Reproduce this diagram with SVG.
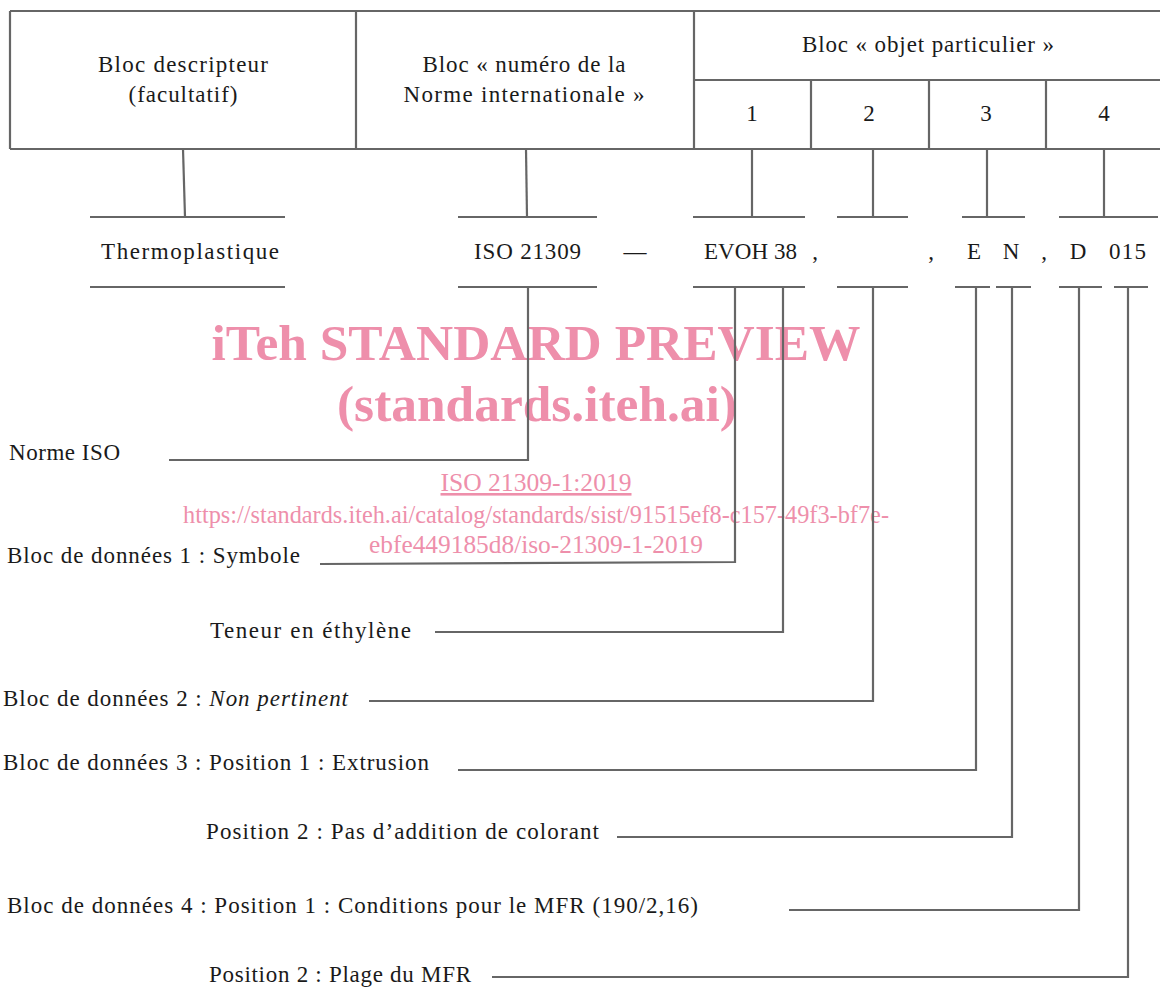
<svg xmlns="http://www.w3.org/2000/svg" width="1160" height="988" viewBox="0 0 1160 988">
<style>
.t{font-family:"Liberation Serif","Times New Roman",serif;font-size:23px;fill:#1a1a1a}
.c{text-anchor:middle}
.ln{stroke:#666;stroke-width:2.2;fill:none}
.wm{font-family:"Liberation Serif","Times New Roman",serif;fill:#ee8fab;text-anchor:middle}
.b{font-weight:bold;font-size:51px}
.s{font-size:26px}
</style>
<rect width="1160" height="988" fill="#fff"/>

<g id="watermark">
<text class="wm b" x="536" y="360" textLength="649" lengthAdjust="spacingAndGlyphs">iTeh STANDARD PREVIEW</text>
<text class="wm b" x="537" y="421" textLength="400" lengthAdjust="spacingAndGlyphs">(standards.iteh.ai)</text>
<text class="wm s" x="536" y="491" textLength="191" lengthAdjust="spacingAndGlyphs" text-decoration="underline">ISO 21309-1:2019</text>
<text class="wm s" x="536" y="523" textLength="706" lengthAdjust="spacingAndGlyphs">https://standards.iteh.ai/catalog/standards/sist/91515ef8-c157-49f3-bf7e-</text>
<text class="wm s" x="536" y="553" textLength="334" lengthAdjust="spacingAndGlyphs">ebfe449185d8/iso-21309-1-2019</text>
</g>

<g id="table">
<path class="ln" d="M10 11H1160M10 149H1160M10 11V149M356 11V149M694 11V149M694 80H1160M811 80V149M929 80V149M1046 80V149"/>
</g>

<g id="cell-descripteur">
<text class="t c" x="183" y="72" textLength="170" lengthAdjust="spacing">Bloc descripteur</text>
<text class="t c" x="183" y="102" textLength="109" lengthAdjust="spacing">(facultatif)</text>
</g>
<g id="cell-numero">
<text class="t c" x="524" y="72" textLength="203" lengthAdjust="spacing">Bloc « numéro de la</text>
<text class="t c" x="524" y="102" textLength="241" lengthAdjust="spacing">Norme internationale »</text>
</g>
<g id="cell-objet">
<text class="t c" x="928" y="52" textLength="252" lengthAdjust="spacing">Bloc « objet particulier »</text>
</g>
<g id="cell-1"><text class="t c" x="752" y="121">1</text></g>
<g id="cell-2"><text class="t c" x="869" y="121">2</text></g>
<g id="cell-3"><text class="t c" x="986" y="121">3</text></g>
<g id="cell-4"><text class="t c" x="1104" y="121">4</text></g>

<g id="code-thermo">
<path class="ln" d="M90 217H285M90 287H285"/>
<text class="t" x="101" y="259" textLength="178" lengthAdjust="spacing">Thermoplastique</text>
</g>
<g id="code-iso">
<path class="ln" d="M458 217H597M458 287H597"/>
<text class="t" x="474" y="259" textLength="107" lengthAdjust="spacing">ISO 21309</text>
</g>
<text class="t c" x="635" y="259">—</text>
<g id="code-evoh">
<path class="ln" d="M693 217H805M693 287H805"/>
<text class="t" x="704" y="259" textLength="93" lengthAdjust="spacing">EVOH 38</text>
</g>
<text class="t c" x="815" y="259">,</text>
<g id="code-block2">
<path class="ln" d="M837 217H908M837 287H908"/>
</g>
<text class="t c" x="931" y="259">,</text>
<g id="code-block3">
<path class="ln" d="M962 217H1025M955 287H990M996 287H1031"/>
<text class="t c" x="974" y="259">E</text>
<text class="t c" x="1011" y="259">N</text>
</g>
<text class="t c" x="1044" y="259">,</text>
<g id="code-block4">
<path class="ln" d="M1059 217H1158M1059 287H1102M1114 287H1148"/>
<text class="t c" x="1078" y="259">D</text>
<text class="t" x="1109" y="259" textLength="37" lengthAdjust="spacing">015</text>
</g>

<g id="labels">
<text class="t" x="9" y="460" textLength="111" lengthAdjust="spacing">Norme ISO</text>
<text class="t" x="7" y="563" textLength="293" lengthAdjust="spacing">Bloc de données 1 : Symbole</text>
<text class="t" x="210" y="638" textLength="201" lengthAdjust="spacing">Teneur en éthylène</text>
<text class="t" x="3" y="706" textLength="345" lengthAdjust="spacing">Bloc de données 2 : <tspan font-style="italic">Non pertinent</tspan></text>
<text class="t" x="3" y="770" textLength="426" lengthAdjust="spacing">Bloc de données 3 : Position 1 : Extrusion</text>
<text class="t" x="206" y="839" textLength="393" lengthAdjust="spacing">Position 2 : Pas d’addition de colorant</text>
<text class="t" x="7" y="913" textLength="691" lengthAdjust="spacing">Bloc de données 4 : Position 1 : Conditions pour le MFR (190/2,16)</text>
<text class="t" x="209" y="982" textLength="262" lengthAdjust="spacing">Position 2 : Plage du MFR</text>
</g>

<g id="connectors">
<path class="ln" d="M183 149L185 217"/>
<path class="ln" d="M526 149L527 217"/>
<path class="ln" d="M752 149V217"/>
<path class="ln" d="M873 149V217"/>
<path class="ln" d="M987 149V217"/>
<path class="ln" d="M1104 149V217"/>
<path class="ln" d="M528 287V460H169"/>
<path class="ln" d="M735 287V562L320 564"/>
<path class="ln" d="M783 287V632H435"/>
<path class="ln" d="M873 287V701H369"/>
<path class="ln" d="M976 287V770H458"/>
<path class="ln" d="M1012 287V837H617"/>
<path class="ln" d="M1079 287V910H789"/>
<path class="ln" d="M1128 287V977H492"/>
</g>
</svg>
